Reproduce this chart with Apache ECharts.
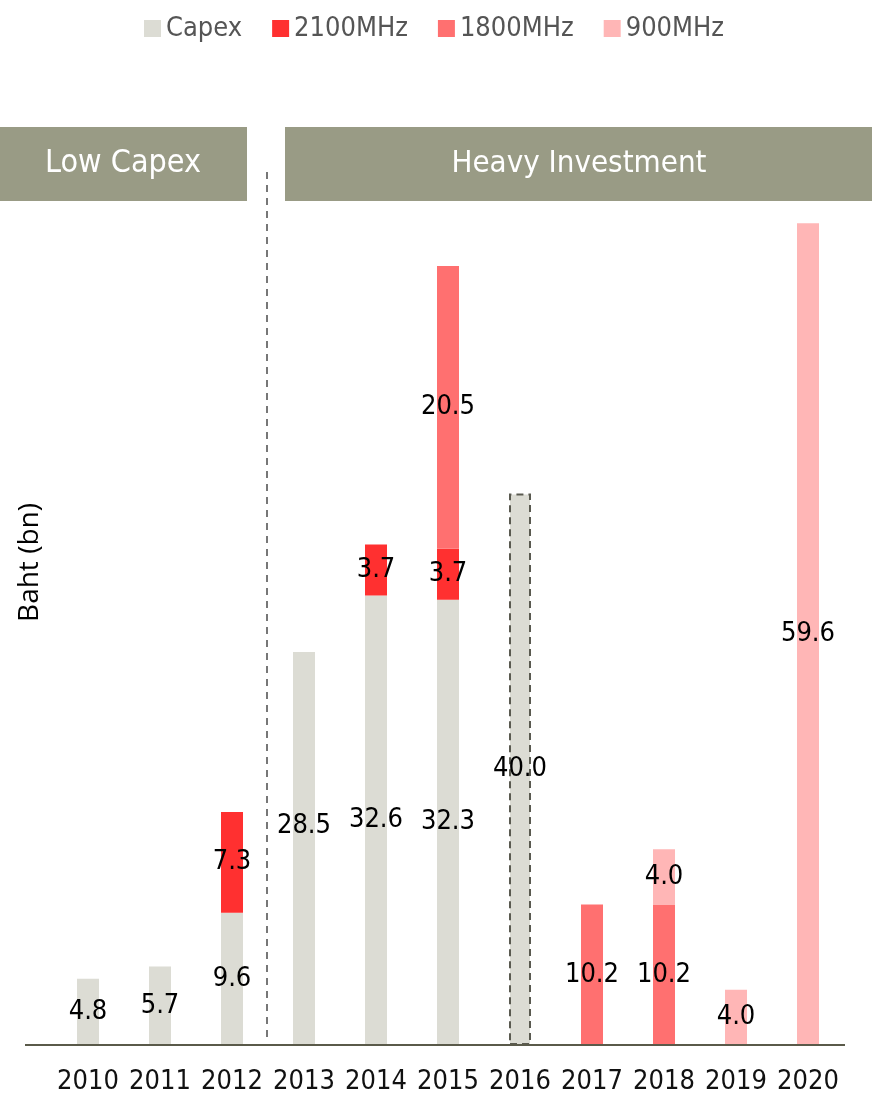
<!DOCTYPE html>
<html><head><meta charset="utf-8">
<script src="https://cdn.jsdelivr.net/npm/echarts@6/dist/echarts.min.js"></script>
<style>html,body{margin:0;padding:0;background:#fff}#c{width:872px;height:1103px}</style>
</head><body><div id="c"></div>
<script>
const years = ['2010','2011','2012','2013','2014','2015','2016','2017','2018','2019','2020'];
const capex   = [4.8, 5.7, 9.6, 28.5, 32.6, 32.3, 40.0, null, null, null, null];
const mhz2100 = [null, null, 7.3, null, 3.7, 3.7, null, null, null, null, null];
const mhz1800 = [null, null, null, null, null, 20.5, null, 10.2, 10.2, null, null];
const mhz900  = [null, null, null, null, null, null, null, null, 4.0, 4.0, 59.6];
const estimatedYear = '2016';
const shiftedLabelYear = '2013';

const FONT = '"DejaVu Sans Condensed","Liberation Sans Narrow",sans-serif';
const chart = echarts.init(document.getElementById('c'), null, {renderer:'canvas'});

const labelStyle = {show:true, position:'inside', color:'#000', fontFamily:FONT, fontSize:27,
  formatter: p => p.value == null ? '' : p.value.toFixed(1)};

function mk(name, arr, color){
  return {name, type:'bar', stack:'s', barWidth:22, itemStyle:{color},
    label:labelStyle,
    data: arr.map((v,i)=>{
      const d = {value:v};
      if (name==='Capex' && years[i]===estimatedYear) d.itemStyle = {color, borderColor:'#5a5a50', borderWidth:2, borderType:[7,5]};
      if (name==='Capex' && years[i]===shiftedLabelYear) d.label = {offset:[0,-23]};
      return d;
    })};
}

chart.setOption({
  animation:false,
  legend:{top:10, left:139, itemGap:30, itemWidth:17, itemHeight:17, icon:'rect',
    textStyle:{fontFamily:FONT, fontSize:27, color:'#555'},
    data:['Capex','2100MHz','1800MHz','900MHz']},
  grid:{left:52, right:28, top:80, bottom:58},
  xAxis:{type:'category', data:years, axisLine:{show:false}, axisTick:{show:false},
    axisLabel:{fontFamily:FONT, fontSize:27, color:'#111', margin:23, interval:0}},
  yAxis:{type:'value', min:0, max:70, splitLine:{show:false}, axisLabel:{show:false},
    axisLine:{show:false}, axisTick:{show:false},
    name:'Baht (bn)', nameLocation:'middle', nameGap:8, nameRotate:90,
    nameTextStyle:{fontFamily:'"Open Sans",sans-serif', fontSize:28, color:'#000'}},
  series:[
    mk('Capex', capex, '#dcdcd4'),
    mk('2100MHz', mhz2100, '#ff3030'),
    mk('1800MHz', mhz1800, '#ff7070'),
    mk('900MHz', mhz900, '#ffb6b6')
  ],
  graphic:[
    {type:'line', shape:{x1:25,y1:1045,x2:845,y2:1045}, style:{stroke:'#5a5a4a', lineWidth:2}, z:10},
    {type:'line', shape:{x1:267,y1:172,x2:267,y2:1043}, style:{stroke:'#777', lineWidth:2, lineDash:[7,6]}},
    {type:'rect', shape:{x:0,y:127,width:247,height:74}, style:{fill:'#999b85'}},
    {type:'text', x:123, y:164, style:{text:'Low Capex', fill:'#fff', font:'32px '+FONT, textAlign:'center', textVerticalAlign:'middle'}},
    {type:'rect', shape:{x:285,y:127,width:587,height:74}, style:{fill:'#999b85'}},
    {type:'text', x:579, y:164, style:{text:'Heavy Investment', fill:'#fff', font:'31px '+FONT, textAlign:'center', textVerticalAlign:'middle'}}
  ]
});
</script></body></html>
